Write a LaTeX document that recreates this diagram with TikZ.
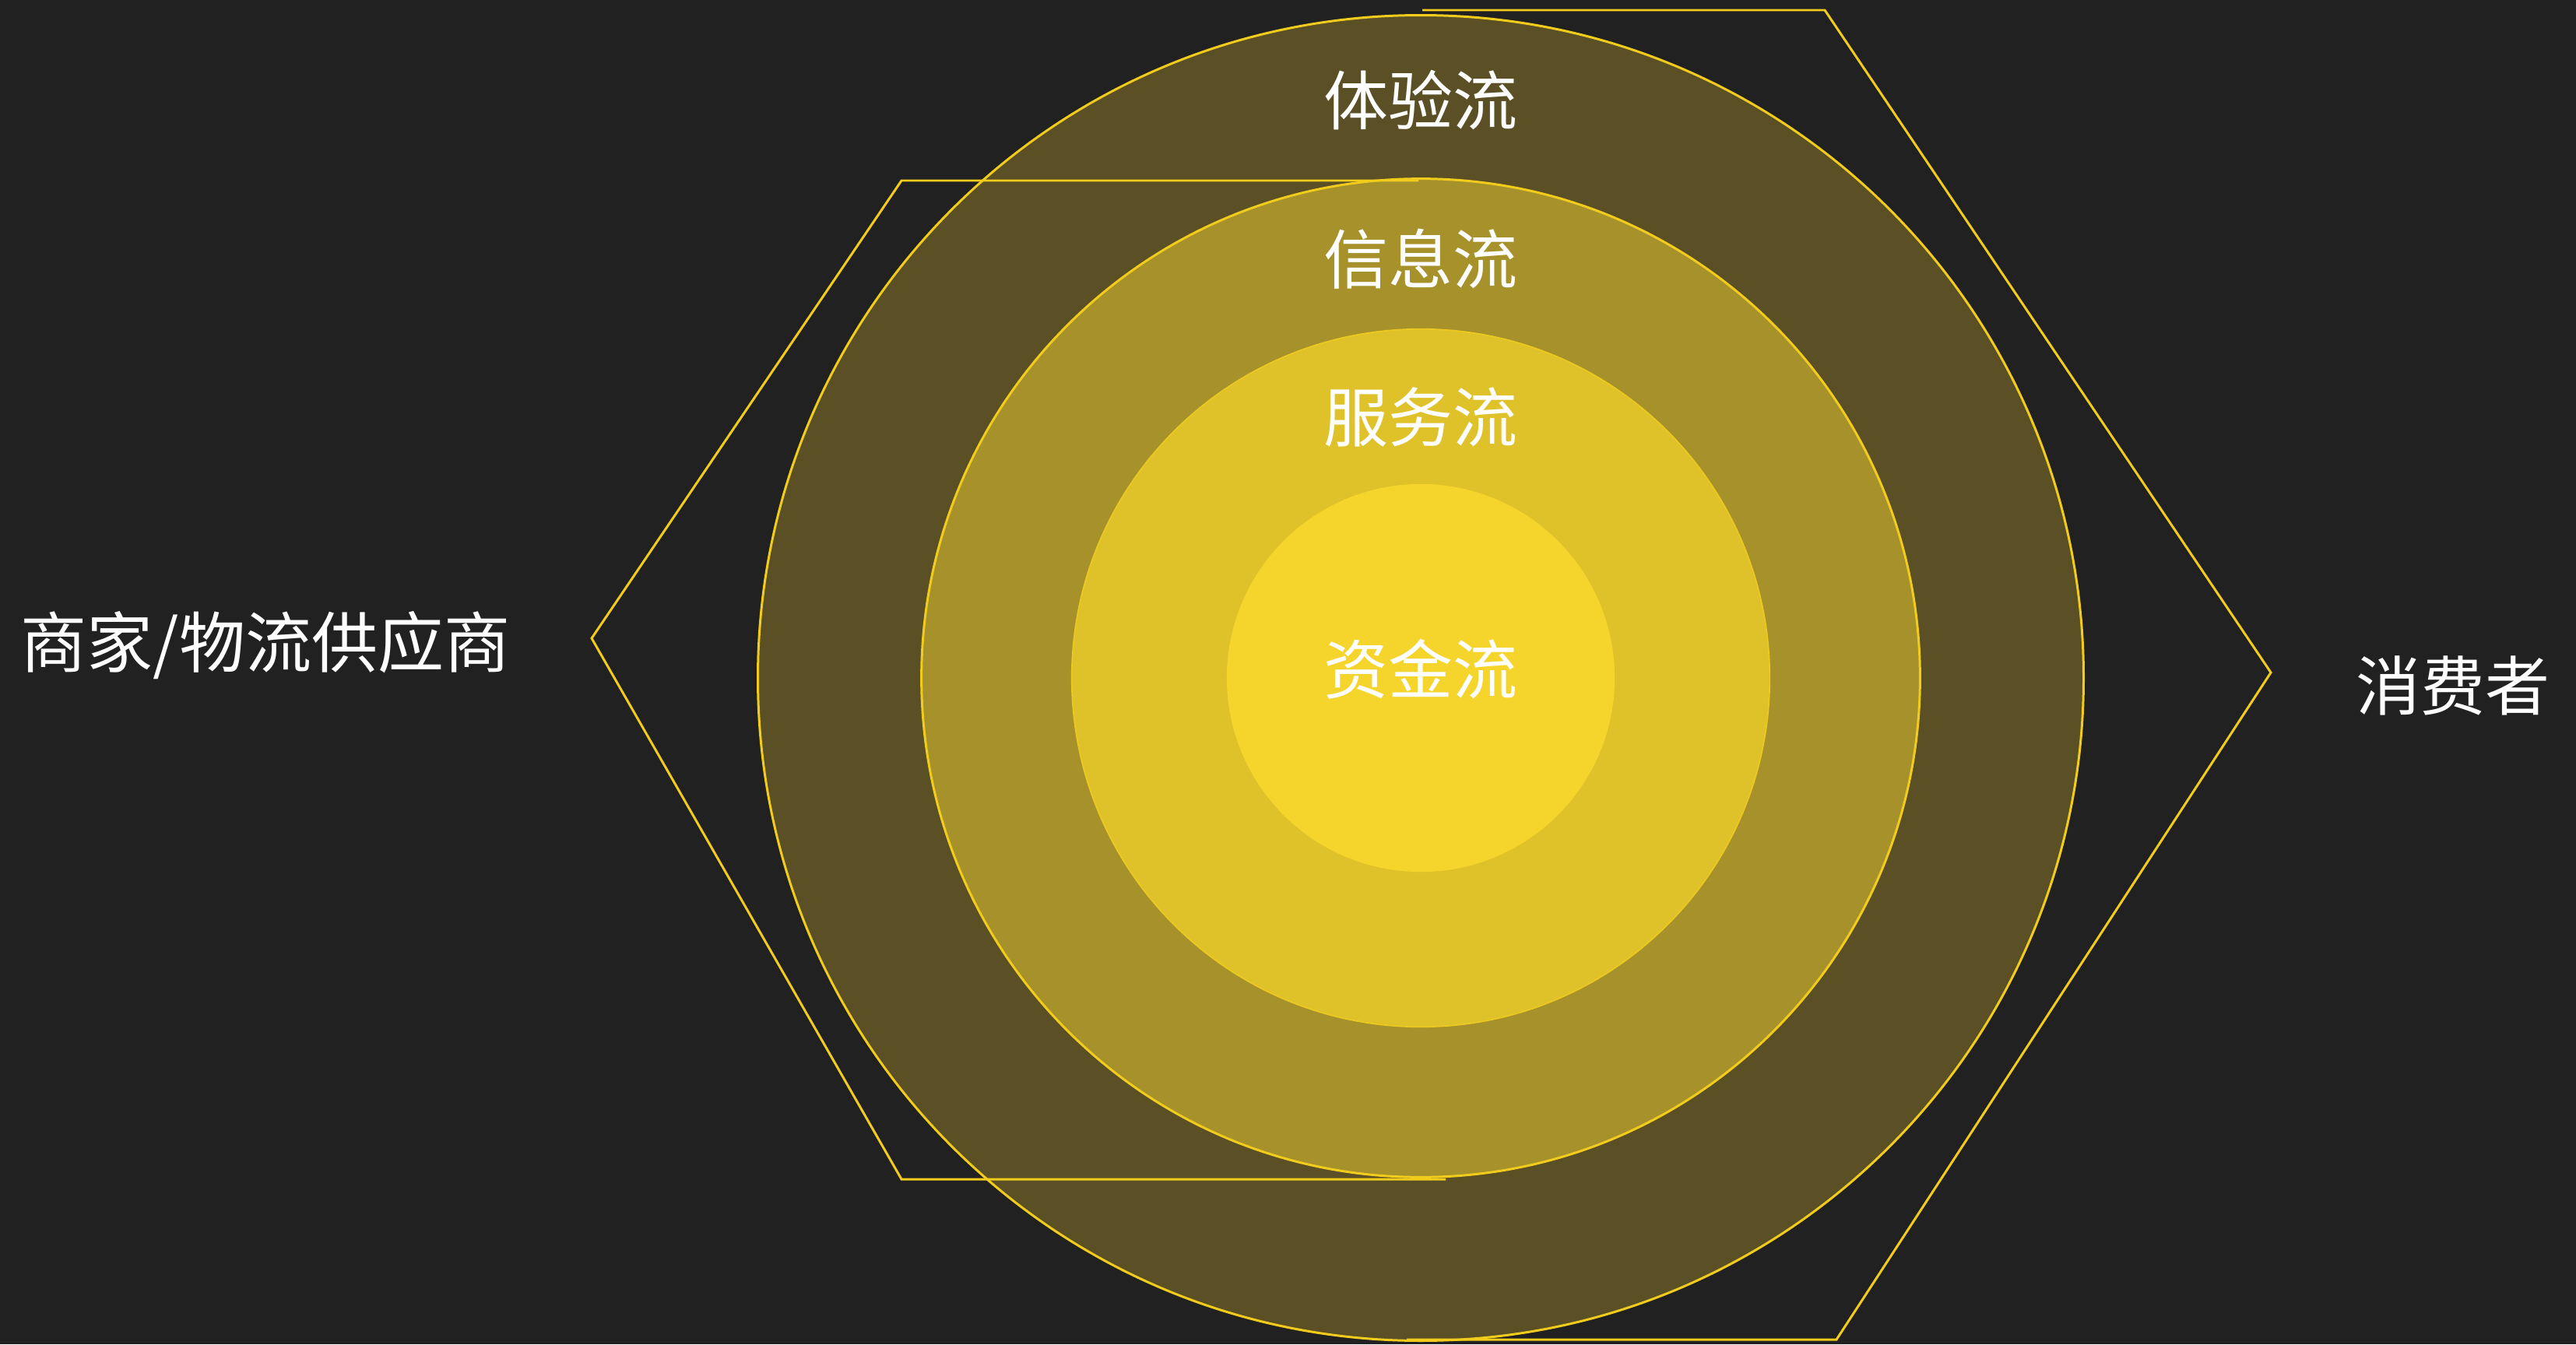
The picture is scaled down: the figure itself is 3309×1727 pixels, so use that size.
\documentclass[tikz,border=0pt]{standalone}
\usepackage{fontspec}
\newfontfamily\cjk{Noto Sans CJK SC}
\definecolor{bg}{HTML}{212121}
\definecolor{ringA}{HTML}{5A4F25}
\definecolor{ringB}{HTML}{A7912A}
\definecolor{ringC}{HTML}{DFC22A}
\definecolor{ringD}{HTML}{F5D42B}
\definecolor{edge}{HTML}{F2CC1C}
\tikzset{
  ring/.style={draw=edge, line width=0.85pt},
  frame/.style={draw=edge, line width=0.85pt, line join=miter},
  lbl/.style={text=white, inner sep=0pt, font=\cjk\fontsize{23.6pt}{28pt}\selectfont},
  side/.style={text=white, inner sep=0pt, font=\cjk\fontsize{24.2pt}{29pt}\selectfont}
}
\begin{document}
\begin{tikzpicture}[x=0.01cm,y=-0.01cm]
\fill[bg] (0,0) rectangle (3309,1727);
\useasboundingbox (0,0) rectangle (3309,1727);
\coordinate (c) at (1825,871);
% rings
\fill[ringA] (c) circle[radius=8.51cm];
\draw[ring] (c) circle[radius=8.51cm];
\fill[ringB] (c) circle[radius=6.41cm];
\draw[ring] (c) circle[radius=6.41cm];
\fill[ringC] (c) circle[radius=4.48cm];
\draw[draw=edge!70!ringC, line width=0.5pt] (c) circle[radius=4.48cm];
\fill[ringD] (c) circle[radius=2.49cm];
% left frame
\coordinate (l1) at (1822,232);
\coordinate (l2) at (1158,232);
\coordinate (l3) at (760,820);
\coordinate (l4) at (1158,1515);
\coordinate (l5) at (1857,1515);
\draw[frame] (l1) -- (l2) -- (l3) -- (l4) -- (l5);
% right frame
\coordinate (r1) at (1827,13);
\coordinate (r2) at (2344,13);
\coordinate (r3) at (2917,864);
\coordinate (r4) at (2359,1721);
\coordinate (r5) at (1807,1721);
\draw[frame] (r1) -- (r2) -- (r3) -- (r4) -- (r5);
% labels
\node[lbl] (t1) at (1825,129) {体验流};
\node[lbl] (t2) at (1825,333) {信息流};
\node[lbl] (t3) at (1825,536) {服务流};
\node[lbl] (t4) at (1825,860) {资金流};
\node[side] (s1) at (341,829) {商家/物流供应商};
\node[lbl] (s2) at (3151,881) {消费者};
\end{tikzpicture}
\end{document}
